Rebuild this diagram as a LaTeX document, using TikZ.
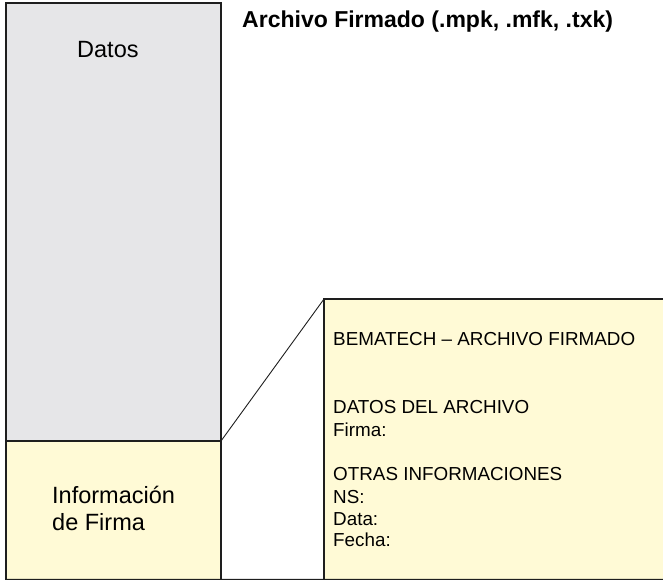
\documentclass[tikz,border=0pt]{standalone}
\usepackage{fontspec}
\setmainfont{Liberation Sans}
\definecolor{boxgray}{RGB}{230,230,232}
\definecolor{boxyellow}{RGB}{255,250,214}
\definecolor{edge}{RGB}{30,30,30}
\begin{document}
\begin{tikzpicture}[x=1bp,y=-1bp,
  block/.style={draw=edge,line width=1.1bp,rectangle,inner sep=0,outer sep=0,anchor=north west},
  bigtxt/.style={anchor=base west,inner sep=0,font=\fontsize{23.6}{27}\selectfont},
  smalltxt/.style={anchor=base west,inner sep=0,font=\fontsize{18.9}{22}\selectfont},
  link/.style={draw=edge,line width=0.9bp}]
\useasboundingbox (0,0) rectangle (663,581);
\node[block,fill=boxgray,minimum width=215bp,minimum height=438bp] (datos) at (6,3) {};
\node[block,fill=boxyellow,minimum width=215bp,minimum height=138.3bp] (firma) at (6,441) {};
\node[block,fill=boxyellow,minimum width=345bp,minimum height=280.3bp] (sig) at (324,299) {};
\draw[link] (firma.north east) -- (sig.north west);
\draw[link,line width=1.1bp] (firma.south west) -- (sig.south east);
\node[bigtxt,font=\fontsize{23.1}{27}\selectfont\bfseries] (title) at (242,28) {Archivo Firmado (.mpk, .mfk, .txk)};
\node[bigtxt] (tdatos) at (77,58) {Datos};
\node[bigtxt] (tinfo) at (52,503) {Información};
\node[bigtxt] (tde) at (52,530.7) {de Firma};
\node[smalltxt] (s1) at (333,345.7) {BEMATECH – ARCHIVO FIRMADO};
\node[smalltxt] (s2) at (333,413) {DATOS DEL ARCHIVO};
\node[smalltxt] (s3) at (333,436.7) {Firma:};
\node[smalltxt] (s4) at (333,480) {OTRAS INFORMACIONES};
\node[smalltxt] (s5) at (333,503) {NS:};
\node[smalltxt] (s6) at (333,525) {Data:};
\node[smalltxt] (s7) at (333,546.7) {Fecha:};
\end{tikzpicture}
\end{document}
